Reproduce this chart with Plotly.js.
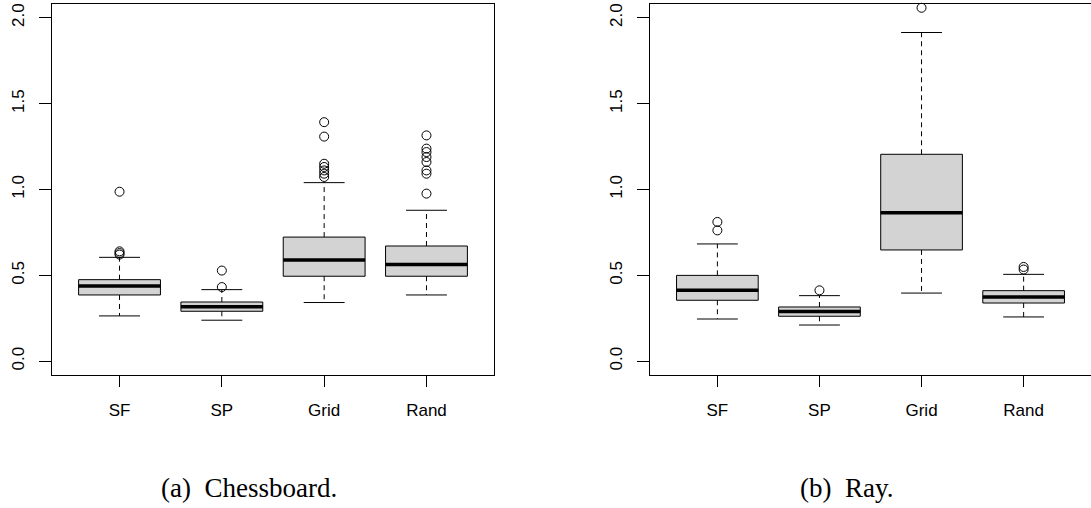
<!DOCTYPE html>
<html>
<head>
<meta charset="utf-8">
<script src="https://cdn.plot.ly/plotly-3.0.1.min.js"></script>
<style>html,body{margin:0;padding:0;background:#fff;}#chart{width:1091px;height:508px;}</style>
</head>
<body>
<div id="chart"></div>
<script>
const categories = ["SF", "SP", "Grid", "Rand"];
const yTickVals = [0, 0.5, 1, 1.5, 2];
const yTickText = ["0.0", "0.5", "1.0", "1.5", "2.0"];
const captions = ["(a)\u00a0\u00a0Chessboard.", "(b)\u00a0\u00a0Ray."];

// Chessboard panel
const cbQ1 = [0.386, 0.291, 0.495, 0.495];
const cbMedian = [0.438, 0.318, 0.590, 0.564];
const cbQ3 = [0.475, 0.345, 0.723, 0.671];
const cbLow = [0.264, 0.239, 0.342, 0.386];
const cbHigh = [0.605, 0.417, 1.040, 0.879];
const cbOutliers = [
  [0.640, 0.630, 0.621, 0.987],
  [0.432, 0.528],
  [1.392, 1.308, 1.150, 1.131, 1.111, 1.092, 1.073],
  [1.315, 1.238, 1.218, 1.189, 1.160, 1.111, 1.092, 0.976]
];

// Ray panel
const rayQ1 = [0.355, 0.262, 0.648, 0.339];
const rayMedian = [0.413, 0.289, 0.865, 0.374];
const rayQ3 = [0.500, 0.316, 1.205, 0.411];
const rayLow = [0.246, 0.211, 0.397, 0.258];
const rayHigh = [0.683, 0.382, 1.914, 0.506];
const rayOutliers = [
  [0.811, 0.762],
  [0.413],
  [2.058],
  [0.549, 0.534]
];

const positions = categories.map((c, i) => i + 1);
const BOX_W = 0.8, CAP_W = 0.4;

function panelTraces(q1, med, q3, lo, hi, outs, xa, ya) {
  const traces = [];
  traces.push({
    type: "box", x: positions, q1: q1, median: med, q3: q3,
    lowerfence: q1, upperfence: q3, width: BOX_W, whiskerwidth: 0,
    boxpoints: false, fillcolor: "#d3d3d3",
    line: {color: "#000", width: 1}, xaxis: xa, yaxis: ya,
    showlegend: false, hoverinfo: "skip"
  });
  const wx = [], wy = [], cx = [], cy = [], mx = [], my = [], ox = [], oy = [];
  positions.forEach((p, i) => {
    wx.push(p, p, null, p, p, null);
    wy.push(q3[i], hi[i], null, q1[i], lo[i], null);
    cx.push(p - CAP_W / 2, p + CAP_W / 2, null, p - CAP_W / 2, p + CAP_W / 2, null);
    cy.push(hi[i], hi[i], null, lo[i], lo[i], null);
    mx.push(p - BOX_W / 2, p + BOX_W / 2, null);
    my.push(med[i], med[i], null);
    outs[i].forEach(v => { ox.push(p); oy.push(v); });
  });
  traces.push({type: "scatter", mode: "lines", x: wx, y: wy, xaxis: xa, yaxis: ya,
    line: {color: "#000", width: 1, dash: "5px,4px"}, showlegend: false, hoverinfo: "skip"});
  traces.push({type: "scatter", mode: "lines", x: cx, y: cy, xaxis: xa, yaxis: ya,
    line: {color: "#000", width: 1}, showlegend: false, hoverinfo: "skip"});
  traces.push({type: "scatter", mode: "lines", x: mx, y: my, xaxis: xa, yaxis: ya,
    line: {color: "#000", width: 3.5}, showlegend: false, hoverinfo: "skip"});
  traces.push({type: "scatter", mode: "markers", x: ox, y: oy, xaxis: xa, yaxis: ya,
    marker: {symbol: "circle-open", size: 9, color: "#000", line: {width: 1, color: "#000"}},
    cliponaxis: false, showlegend: false, hoverinfo: "skip"});
  return traces;
}

const data = [].concat(
  panelTraces(cbQ1, cbMedian, cbQ3, cbLow, cbHigh, cbOutliers, "x", "y"),
  panelTraces(rayQ1, rayMedian, rayQ3, rayLow, rayHigh, rayOutliers, "x2", "y2")
);

const tickFont = {family: "Liberation Sans, Arial, sans-serif", size: 17, color: "#000"};
function xAxis(domain, anchor) {
  return {domain: domain, anchor: anchor, range: [0.34, 4.66], tickmode: "array",
    tickvals: positions, ticktext: categories, ticks: "outside", ticklen: 11,
    tickcolor: "#000", tickwidth: 1, showline: true, linecolor: "#000", linewidth: 1,
    mirror: true, showgrid: false, zeroline: false, tickfont: tickFont, ticklabelstandoff: 9};
}
function yAxis(anchor, mirror) {
  return {anchor: anchor, domain: [0, 1], range: [-0.08, 2.08], tickmode: "array",
    tickvals: yTickVals, ticktext: yTickText, tickangle: -90, ticks: "outside", ticklen: 12,
    tickcolor: "#000", tickwidth: 1, showline: true, linecolor: "#000", linewidth: 1,
    mirror: mirror, showgrid: false, zeroline: false, tickfont: tickFont, ticklabelstandoff: 8};
}

const layout = {
  width: 1091, height: 508,
  margin: {l: 52, r: 0, t: 4, b: 133},
  paper_bgcolor: "#fff", plot_bgcolor: "#fff",
  showlegend: false,
  xaxis: xAxis([0, 442 / 1039], "y"),
  yaxis: yAxis("x", true),
  xaxis2: xAxis([598 / 1039, 1], "y2"),
  yaxis2: yAxis("x2", false),
  annotations: [
    {text: captions[0], xref: "paper", yref: "paper", x: (249 - 52) / 1039, y: (375 - 488) / 371,
     xanchor: "center", yanchor: "middle", showarrow: false,
     font: {family: "Liberation Serif, Times New Roman, serif", size: 27, color: "#000"}},
    {text: captions[1], xref: "paper", yref: "paper", x: (846.5 - 52) / 1039, y: (375 - 488) / 371,
     xanchor: "center", yanchor: "middle", showarrow: false,
     font: {family: "Liberation Serif, Times New Roman, serif", size: 27, color: "#000"}}
  ]
};

Plotly.newPlot("chart", data, layout, {staticPlot: true, displayModeBar: false});
</script>
</body>
</html>
